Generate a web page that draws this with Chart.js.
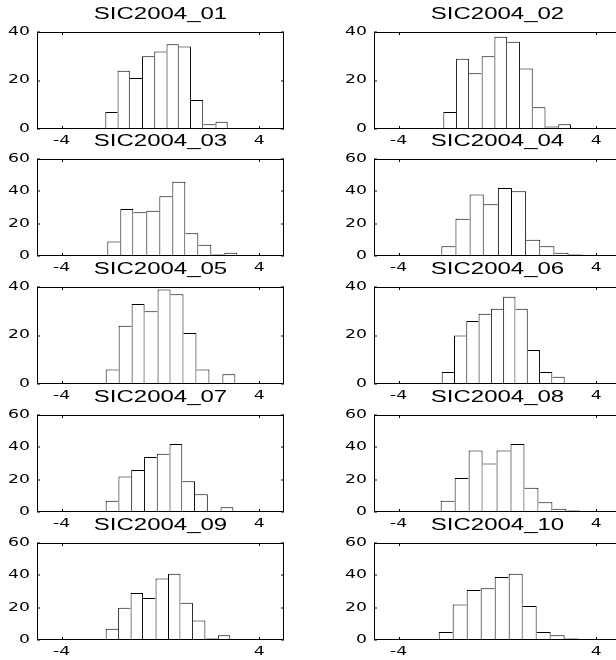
<!DOCTYPE html>
<html>
<head>
<meta charset="utf-8">
<script src="https://cdn.jsdelivr.net/npm/chart.js@4"></script>
<style>
  html, body { margin: 0; padding: 0; background: #fff; }
  #wrap { position: relative; width: 616px; height: 660px; overflow: hidden; background: #fff; }
  #wrap canvas { position: absolute; }
</style>
</head>
<body>
<div id="wrap"></div>
<script>
// histogram bins: bin centres and counts for each panel
const titles = ['SIC2004_01', 'SIC2004_02', 'SIC2004_03', 'SIC2004_04', 'SIC2004_05',
                'SIC2004_06', 'SIC2004_07', 'SIC2004_08', 'SIC2004_09', 'SIC2004_10'];

const centers01 = [-1.986, -1.491, -0.995, -0.500, -0.005, 0.491, 0.986, 1.482, 1.977, 2.473];
const counts01  = [7, 24, 21, 30, 32, 35, 34, 12, 2, 3];
const centers02 = [-1.935, -1.418, -0.901, -0.384, 0.133, 0.650, 1.167, 1.684, 2.201, 2.718];
const counts02  = [7, 29, 23, 30, 38, 36, 25, 9, 1, 2];
const centers03 = [-1.890, -1.364, -0.837, -0.311, 0.216, 0.742, 1.268, 1.795, 2.321, 2.848];
const counts03  = [9, 29, 27, 28, 37, 46, 14, 7, 1, 2];
const centers04 = [-1.988, -1.416, -0.843, -0.271, 0.301, 0.873, 1.445, 2.018, 2.590, 3.162];
const counts04  = [6, 23, 38, 32, 42, 40, 10, 6, 2, 1];
const centers05 = [-1.957, -1.432, -0.907, -0.382, 0.143, 0.668, 1.193, 1.718, 2.243, 2.768];
const counts05  = [6, 24, 33, 30, 39, 37, 21, 6, 0, 4];
const centers06 = [-2.011, -1.513, -1.015, -0.518, -0.020, 0.478, 0.976, 1.474, 1.972, 2.470];
const counts06  = [5, 20, 26, 29, 31, 36, 31, 14, 5, 3];
const centers07 = [-1.962, -1.445, -0.928, -0.411, 0.106, 0.623, 1.140, 1.657, 2.174, 2.691];
const counts07  = [7, 22, 26, 34, 36, 42, 19, 11, 0, 3];
const centers08 = [-2.018, -1.453, -0.887, -0.322, 0.244, 0.809, 1.375, 1.940, 2.506, 3.071];
const counts08  = [7, 21, 38, 30, 38, 42, 15, 6, 2, 1];
const centers09 = [-1.968, -1.463, -0.959, -0.454, 0.051, 0.556, 1.060, 1.565, 2.070, 2.574];
const counts09  = [7, 20, 29, 26, 38, 41, 23, 12, 1, 3];
const centers10 = [-2.098, -1.532, -0.965, -0.398, 0.169, 0.736, 1.302, 1.869, 2.436, 3.003];
const counts10  = [5, 22, 31, 32, 39, 41, 21, 5, 3, 1];

const yMaxes = [40, 40, 60, 60, 40, 40, 60, 60, 60, 60];
const xTicks = [-4, 4];

const panels = [
  [centers01, counts01], [centers02, counts02], [centers03, counts03], [centers04, counts04],
  [centers05, counts05], [centers06, counts06], [centers07, counts07], [centers08, counts08],
  [centers09, counts09], [centers10, counts10]
];

// the text in the original is stretched sideways by about 1.5
const SX = 1.5;
const CW = 315, CH = 149;
const colLeft = [0, 337];
const rowTop = [0, 127, 255, 383, 511];

function widenText(ctx) {
  const fill = ctx.fillText;
  ctx.fillText = function (text, x, y) {
    this.save();
    this.translate(x, y);
    this.scale(SX, 1);
    fill.call(this, text, 0, 0);
    this.restore();
  };
}

// box round the plot area with small inward ticks
const frame = {
  id: 'frame',
  afterDatasetsDraw(chart) {
    const { ctx, chartArea: a, scales: { x, y } } = chart;
    const w = a.right - a.left, h = a.bottom - a.top;
    ctx.save();
    ctx.fillStyle = '#000';
    ctx.fillRect(a.left, a.top, w, 1);
    ctx.fillRect(a.left, a.bottom - 1, w, 1);
    ctx.fillRect(a.left, a.top, 1, h);
    ctx.fillRect(a.right - 1, a.top, 1, h);
    x.ticks.forEach(t => {
      const px = Math.round(x.getPixelForValue(t.value));
      ctx.fillRect(px, a.top, 1, 3);
      ctx.fillRect(px, a.bottom - 3, 1, 3);
    });
    y.ticks.forEach(t => {
      const py = Math.round(y.getPixelForValue(t.value));
      ctx.fillRect(a.left, py - 0.5, 3, 1);
      ctx.fillRect(a.right - 3, py - 0.5, 3, 1);
    });
    ctx.restore();
  }
};

const wrap = document.getElementById('wrap');

panels.forEach(([centers, counts], i) => {
  const canvas = document.createElement('canvas');
  canvas.width = CW;
  canvas.height = CH;
  canvas.style.left = colLeft[i % 2] + 'px';
  canvas.style.top = rowTop[Math.floor(i / 2)] + 'px';
  wrap.appendChild(canvas);
  widenText(canvas.getContext('2d'));

  // a shared edge between two bars is drawn once, by the taller bar
  const edge = c => {
    const k = c.dataIndex;
    const h = counts[k];
    const prev = k > 0 ? counts[k - 1] : 0;
    const next = k < counts.length - 1 ? counts[k + 1] : 0;
    return { top: 1, bottom: 0, left: prev < h ? 1 : 0, right: next <= h ? 1 : 0 };
  };

  new Chart(canvas, {
    type: 'bar',
    data: {
      datasets: [{
        data: centers.map((x, k) => ({ x: x, y: counts[k] })),
        backgroundColor: '#fff',
        borderColor: '#000',
        borderWidth: edge,
        barPercentage: 1,
        categoryPercentage: 1,
        inflateAmount: 0
      }]
    },
    options: {
      responsive: false,
      devicePixelRatio: 1,
      animation: false,
      events: [],
      layout: { padding: { top: 0, left: 0, bottom: 0, right: CW - 284 } },
      plugins: {
        legend: { display: false },
        tooltip: { enabled: false },
        title: {
          display: true,
          fullSize: false,
          text: titles[i],
          color: '#000',
          font: { family: 'Liberation Sans', size: 16, weight: 'normal', lineHeight: 1.2 },
          padding: { top: 5.4, bottom: 7.4 }
        }
      },
      scales: {
        x: {
          type: 'linear',
          min: -5,
          max: 5,
          offset: false,
          afterBuildTicks: s => { s.ticks = xTicks.map(v => ({ value: v })); },
          afterFit: s => { s.height = 20; },
          grid: { display: false, drawTicks: false },
          border: { display: false },
          ticks: {
            padding: 5,
            color: '#000',
            maxRotation: 0,
            autoSkip: false,
            font: { family: 'DejaVu Sans', size: 11.5 }
          }
        },
        y: {
          min: 0,
          max: yMaxes[i],
          afterFit: s => { s.width = 37; },
          grid: { display: false, drawTicks: false },
          border: { display: false },
          ticks: {
            stepSize: 20,
            padding: 7,
            color: '#000',
            font: { family: 'DejaVu Sans', size: 11.5 }
          }
        }
      }
    },
    plugins: [frame]
  });
});
</script>
</body>
</html>
